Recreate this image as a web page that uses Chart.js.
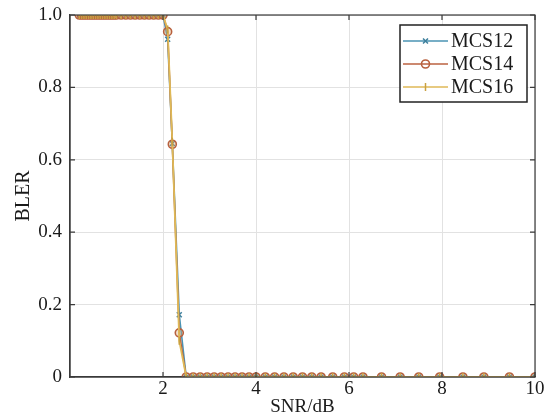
<!DOCTYPE html>
<html lang="en">
<head>
  <meta charset="UTF-8">
  <title>BLER vs SNR</title>
  <script src="https://cdn.jsdelivr.net/npm/chart.js"></script>
  <style>
    body { margin: 0; padding: 0; background: #fff; }
    #wrap { width: 547px; height: 418px; }
  </style>
</head>
<body>
  <div id="wrap"><canvas id="blerChart" width="547" height="418"></canvas></div>

  <script>
    // SNR points (dB)
    const snr = [
      0.2, 0.25, 0.3, 0.35, 0.4, 0.45, 0.5, 0.55, 0.6, 0.65, 0.7, 0.75, 0.8, 0.85, 0.9, 0.95, 1.0,
      1.1, 1.2, 1.3, 1.4, 1.5, 1.6, 1.7, 1.8, 1.9, 2.0,
      2.1, 2.2, 2.35,
      2.5, 2.65, 2.8, 2.95, 3.1, 3.25, 3.4, 3.55, 3.7, 3.85,
      4.0, 4.2, 4.4, 4.6, 4.8, 5.0, 5.2, 5.4, 5.65, 5.9, 6.1,
      6.3, 6.7, 7.1, 7.5, 7.95, 8.45, 8.9, 9.45, 10.0
    ];
    const mcs12 = [
      1, 1, 1, 1, 1, 1, 1, 1, 1, 1, 1, 1, 1, 1, 1, 1, 1,
      1, 1, 1, 1, 1, 1, 1, 1, 1, 1,
      0.933, 0.645, 0.172,
      0, 0, 0, 0, 0, 0, 0, 0, 0, 0,
      0, 0, 0, 0, 0, 0, 0, 0, 0, 0, 0,
      0, 0, 0, 0, 0, 0, 0, 0, 0
    ];
    const mcs14 = [
      1, 1, 1, 1, 1, 1, 1, 1, 1, 1, 1, 1, 1, 1, 1, 1, 1,
      1, 1, 1, 1, 1, 1, 1, 1, 1, 1,
      0.954, 0.643, 0.122,
      0, 0, 0, 0, 0, 0, 0, 0, 0, 0,
      0, 0, 0, 0, 0, 0, 0, 0, 0, 0, 0,
      0, 0, 0, 0, 0, 0, 0, 0, 0
    ];
    const mcs16 = [
      1, 1, 1, 1, 1, 1, 1, 1, 1, 1, 1, 1, 1, 1, 1, 1, 1,
      1, 1, 1, 1, 1, 1, 1, 1, 1, 1,
      0.96, 0.65, 0.10,
      0, 0, 0, 0, 0, 0, 0, 0, 0, 0,
      0, 0, 0, 0, 0, 0, 0, 0, 0, 0, 0,
      0, 0, 0, 0, 0, 0, 0, 0, 0
    ];
    const xTicks = [2, 4, 6, 8, 10];
    const yTicks = [0, 0.2, 0.4, 0.6, 0.8, 1.0];

    const serif = '"Liberation Serif", "DejaVu Serif", serif';
    const toPts = ys => ys.map((y, i) => ({ x: snr[i], y: y }));

    // box, inward ticks and legend like the matlab figure
    const frame = {
      id: 'frame',
      afterDatasetsDraw(chart) {
        const { ctx, chartArea: a, scales } = chart;
        ctx.save();
        ctx.strokeStyle = '#3a3a3a';
        ctx.lineWidth = 1.2;
        ctx.strokeRect(a.left, a.top, a.right - a.left, a.bottom - a.top);
        ctx.beginPath();
        xTicks.forEach(v => {
          const px = scales.x.getPixelForValue(v);
          ctx.moveTo(px, a.bottom); ctx.lineTo(px, a.bottom - 5);
          ctx.moveTo(px, a.top); ctx.lineTo(px, a.top + 5);
        });
        yTicks.forEach(v => {
          const py = scales.y.getPixelForValue(v);
          ctx.moveTo(a.left, py); ctx.lineTo(a.left + 5, py);
          ctx.moveTo(a.right, py); ctx.lineTo(a.right - 5, py);
        });
        ctx.stroke();

        // legend
        const bx = 400, by = 25, bw = 127, bh = 77;
        ctx.fillStyle = '#fff';
        ctx.fillRect(bx, by, bw, bh);
        ctx.strokeStyle = '#222';
        ctx.lineWidth = 1.5;
        ctx.strokeRect(bx, by, bw, bh);
        const rows = [41, 64, 87];
        chart.data.datasets.forEach((ds, r) => {
          const y = rows[r];
          ctx.strokeStyle = ds.borderColor;
          ctx.lineWidth = 1.5;
          ctx.beginPath();
          ctx.moveTo(403, y); ctx.lineTo(448, y);
          ctx.stroke();
          ctx.strokeStyle = ds.pointBorderColor;
          ctx.fillStyle = 'rgba(0,0,0,0)';
          ctx.lineWidth = ds.pointBorderWidth;
          Chart.helpers.drawPoint(ctx, {
            pointStyle: ds.pointStyle, radius: ds.pointRadius,
            rotation: ds.pointRotation || 0, borderWidth: ds.pointBorderWidth
          }, 425.5, y);
          ctx.fillStyle = '#1a1a1a';
          ctx.font = '20px ' + serif;
          ctx.textBaseline = 'middle';
          ctx.textAlign = 'left';
          ctx.fillText(ds.label, 451, y + 1);
        });
        ctx.restore();
      }
    };

    const ctx = document.getElementById('blerChart').getContext('2d');
    new Chart(ctx, {
      type: 'line',
      data: {
        datasets: [
          {
            label: 'MCS12', data: toPts(mcs12), order: 2,
            borderColor: '#4a93b3', borderWidth: 1.6,
            pointStyle: 'crossRot', pointRadius: 3.5, pointBorderWidth: 1.5,
            pointBorderColor: '#3d7f9c', pointBackgroundColor: 'rgba(0,0,0,0)'
          },
          {
            label: 'MCS14', data: toPts(mcs14), order: 1,
            borderColor: '#bb6240', borderWidth: 1.6,
            pointStyle: 'circle', pointRadius: 4, pointBorderWidth: 1.6,
            pointBorderColor: '#b8603e', pointBackgroundColor: 'rgba(214,170,110,0.35)'
          },
          {
            label: 'MCS16', data: toPts(mcs16), order: 0,
            borderColor: '#dfb957', borderWidth: 1.8,
            pointStyle: 'line', pointRotation: 90, pointRadius: 4, pointBorderWidth: 1.5,
            pointBorderColor: '#c9a040', pointBackgroundColor: 'rgba(0,0,0,0)'
          }
        ]
      },
      options: {
        responsive: false,
        animation: false,
        layout: { padding: { top: 15, right: 12, left: 0, bottom: 0 } },
        plugins: { legend: { display: false }, tooltip: { enabled: false } },
        scales: {
          x: {
            type: 'linear', min: 0, max: 10,
            afterFit: s => { s.height = 41; s.paddingLeft = 0; s.paddingRight = 0; },
            afterBuildTicks: s => { s.ticks = [0].concat(xTicks).map(v => ({ value: v })); },
            grid: { color: '#e2e2e2', drawTicks: false },
            border: { color: '#3a3a3a', width: 1.2 },
            ticks: {
              padding: 1, color: '#1a1a1a', font: { family: serif, size: 19 },
              callback: v => (v === 0 ? '' : String(v))
            },
            title: { display: true, text: 'SNR/dB', color: '#1a1a1a', padding: 0, font: { family: serif, size: 19 } }
          },
          y: {
            min: 0, max: 1,
            afterFit: s => { s.width = 70; s.paddingTop = 0; s.paddingBottom = 0; },
            afterBuildTicks: s => { s.ticks = yTicks.map(v => ({ value: v })); },
            grid: { color: '#e2e2e2', drawTicks: false },
            border: { color: '#3a3a3a', width: 1.2 },
            ticks: {
              padding: 8, color: '#1a1a1a', font: { family: serif, size: 19 },
              callback: v => (v === 0 ? '0' : v.toFixed(1))
            },
            title: { display: true, text: 'BLER', color: '#1a1a1a', padding: { top: 12, bottom: 0 }, font: { family: serif, size: 20 } }
          }
        }
      },
      plugins: [frame]
    });
  </script>
</body>
</html>
